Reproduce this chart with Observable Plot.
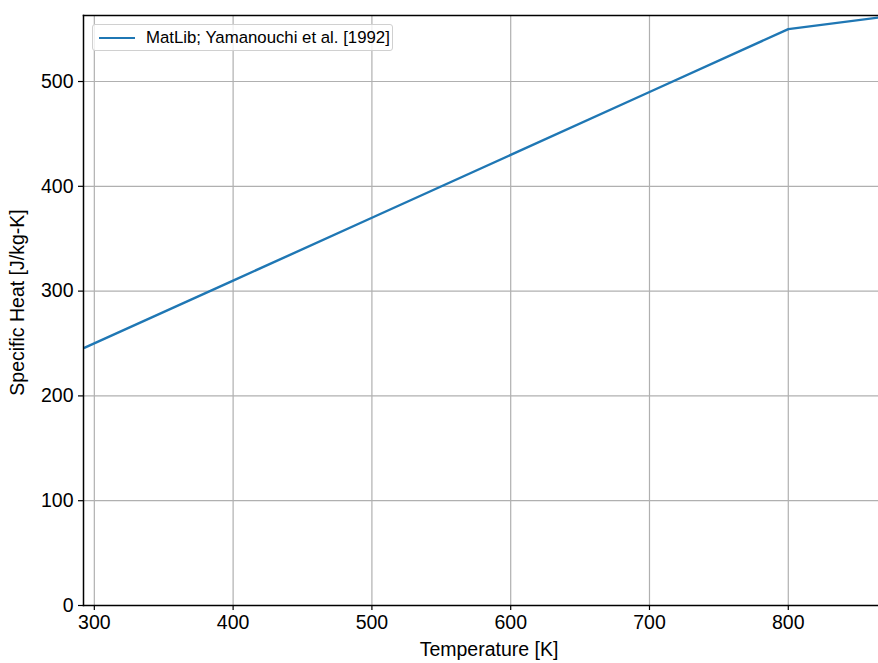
<!DOCTYPE html>
<html>
<head>
<meta charset="utf-8">
<script src="https://cdn.jsdelivr.net/npm/d3@7"></script>
<script src="https://cdn.jsdelivr.net/npm/@observablehq/plot@0.6"></script>
<style>
  html, body { margin: 0; padding: 0; background: #fff; }
  #wrap { position: relative; width: 878px; height: 663px; font-family: "Liberation Sans", Arial, sans-serif; }
  #wrap svg text { font-size: 19.5px; fill: #000; }
  #legend { position: absolute; left: 92px; top: 24px; width: 301px; height: 27px; box-sizing: border-box;
    border: 1px solid #d0d0d0; border-radius: 3px; background: rgba(255,255,255,0.8);
    display: flex; align-items: center; font-size: 16.8px; color: #000; white-space: nowrap; }
  #legend .sw { width: 36px; height: 0; border-top: 2.4px solid #1f77b4; margin-left: 6px; margin-right: 11px; }
</style>
</head>
<body>
<div id="wrap"></div>
<script>
const temperature = [293.15, 400, 500, 600, 700, 800, 865];
const specificHeat = [246, 310, 370, 430, 490, 550, 561];
const xTicks = [300, 400, 500, 600, 700, 800];
const yTicks = [0, 100, 200, 300, 400, 500];
const xLabel = "Temperature [K]";
const yLabel = "Specific Heat [J/kg-K]";
const seriesName = "MatLib; Yamanouchi et al. [1992]";

const data = temperature.map((t, i) => ({t, cp: specificHeat[i]}));

const chart = Plot.plot({
  width: 878,
  height: 663,
  marginTop: 15,
  marginBottom: 58,
  marginLeft: 83,
  marginRight: 0,
  style: {fontFamily: "Liberation Sans, Arial, sans-serif", fontSize: "19.5px", color: "#000", background: "#fff"},
  x: {domain: [292.2, 865], ticks: xTicks},
  y: {domain: [0, 563], ticks: yTicks},
  marks: [
    Plot.gridX(xTicks, {stroke: "#b0b0b0", strokeOpacity: 1, strokeWidth: 1.2}),
    Plot.gridY(yTicks, {stroke: "#b0b0b0", strokeOpacity: 1, strokeWidth: 1.2}),
    Plot.axisX(xTicks, {tickSize: 5, tickPadding: 5, label: null, strokeWidth: 1.2}),
    Plot.axisY(yTicks, {tickSize: 5, tickPadding: 5, label: null, strokeWidth: 1.2}),
    Plot.text([xLabel], {frameAnchor: "bottom", textAnchor: "middle", dx: 8, dy: 50, text: d => d, fill: "#000", lineAnchor: "bottom"}),
    Plot.text([yLabel], {frameAnchor: "left", textAnchor: "middle", dx: -73, dy: -8, rotate: -90, text: d => d, fill: "#000", lineAnchor: "top"}),
    Plot.line(data, {x: "t", y: "cp", stroke: "#1f77b4", strokeWidth: 2.4, clip: true}),
    Plot.frame({anchor: "left", stroke: "#000", strokeWidth: 1.5}),
    Plot.frame({anchor: "bottom", stroke: "#000", strokeWidth: 1.5}),
    Plot.frame({anchor: "top", stroke: "#000", strokeWidth: 1.5})
  ]
});

const wrap = document.getElementById("wrap");
wrap.appendChild(chart);
const legend = document.createElement("div");
legend.id = "legend";
legend.innerHTML = `<span class="sw"></span><span>${seriesName}</span>`;
wrap.appendChild(legend);
</script>
</body>
</html>
